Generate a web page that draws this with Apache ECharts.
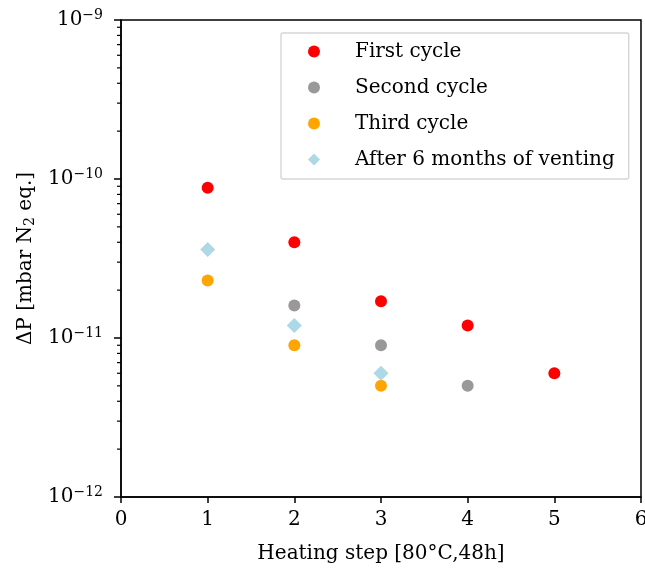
<!DOCTYPE html>
<html>
<head>
<meta charset="utf-8">
<script src="https://cdn.jsdelivr.net/npm/echarts@6/dist/echarts.min.js"></script>
<style>
  html, body { margin: 0; padding: 0; background: #fff; }
  #chart { width: 645px; height: 576px; }
</style>
</head>
<body>
<div id="chart"></div>
<script>
// heating step on x, pressure rise on y (log)
const firstCycle = [[1, 8.8e-11], [2, 4.0e-11], [3, 1.7e-11], [4, 1.2e-11], [5, 6.0e-12]]
const secondCycle = [[2, 1.6e-11], [3, 9.0e-12], [4, 5.0e-12]]
const thirdCycle = [[1, 2.3e-11], [2, 9.0e-12], [3, 5.0e-12]]
const afterVenting = [[1, 3.6e-11], [2, 1.2e-11], [3, 6.0e-12]]
const seriesNames = ['First cycle', 'Second cycle', 'Third cycle', 'After 6 months of venting']

// minor ticks of the log axis (2..9 x 10^k)
const minorTickValues = []
for (let e = -12; e < -9; e++) {
  for (let m = 2; m <= 9; m++) minorTickValues.push([0, m * Math.pow(10, e)])
}

const font = 'DejaVu Serif'
const chart = echarts.init(document.getElementById('chart'))

const option = {
  animation: false,
  textStyle: { fontFamily: font },
  grid: {
    left: 121, right: 4, top: 20, bottom: 79,
    outerBoundsMode: 'none', containLabel: false,
    show: true, borderColor: '#000', borderWidth: 1.5
  },
  legend: {
    data: seriesNames,
    orient: 'vertical',
    left: 281, top: 33,
    padding: [7, 14, 8, 27],
    itemGap: 13,
    itemWidth: 12, itemHeight: 12,
    backgroundColor: '#fff',
    borderColor: '#d6d6d6', borderWidth: 1.4, borderRadius: 2,
    textStyle: { fontFamily: font, fontSize: 20, color: '#000', padding: [0, 0, 0, 30], lineHeight: 23 }
  },
  xAxis: {
    type: 'value', min: 0, max: 6, interval: 1,
    name: 'Heating step [80°C,48h]',
    nameLocation: 'middle', nameGap: 47,
    nameTextStyle: { fontFamily: font, fontSize: 20, color: '#000' },
    axisLine: { lineStyle: { color: '#000', width: 1.5 } },
    axisTick: { length: 6, lineStyle: { color: '#000', width: 1.5 } },
    axisLabel: { fontFamily: font, fontSize: 20, color: '#000', margin: 13 },
    splitLine: { show: false }
  },
  yAxis: {
    type: 'log', logBase: 10, min: 1e-12, max: 1e-9,
    name: 'ΔP [mbar N{sub|2} eq.]',
    nameLocation: 'middle', nameGap: 78, nameRotate: 90,
    nameTextStyle: {
      fontFamily: font, fontSize: 20, color: '#000',
      rich: { sub: { fontFamily: font, fontSize: 14, color: '#000', verticalAlign: 'bottom', padding: [8, 0, 0, 0] } }
    },
    axisLine: { show: true, lineStyle: { color: '#000', width: 1.5 } },
    axisTick: { length: 7, lineStyle: { color: '#000', width: 1.5 } },
    axisLabel: {
      fontFamily: font, fontSize: 20, color: '#000', margin: 18,
      formatter: function (v) {
        const e = Math.round(Math.log10(v))
        return '10{sup|−' + Math.abs(e) + '}'
      },
      rich: { sup: { fontFamily: font, fontSize: 14, color: '#000', verticalAlign: 'top', padding: [0, 0, 10, 0] } }
    },
    splitLine: { show: false }
  },
  series: [
    { name: seriesNames[0], type: 'scatter', symbol: 'circle', symbolSize: 12, itemStyle: { color: '#ff0000', opacity: 1 }, data: firstCycle },
    { name: seriesNames[1], type: 'scatter', symbol: 'circle', symbolSize: 12, itemStyle: { color: '#999999', opacity: 1 }, data: secondCycle },
    { name: seriesNames[2], type: 'scatter', symbol: 'circle', symbolSize: 12, itemStyle: { color: '#ffa500', opacity: 1 }, data: thirdCycle },
    { name: seriesNames[3], type: 'scatter', symbol: 'diamond', symbolSize: 15, itemStyle: { color: '#add8e6', opacity: 1 }, data: afterVenting },
    {
      type: 'custom', silent: true, data: minorTickValues,
      renderItem: function (params, api) {
        const p = api.coord([api.value(0), api.value(1)])
        return {
          type: 'line',
          shape: { x1: p[0] - 4, y1: p[1], x2: p[0], y2: p[1] },
          style: { stroke: '#000', lineWidth: 1.2 }
        }
      }
    }
  ]
}

chart.setOption(option)
</script>
</body>
</html>
